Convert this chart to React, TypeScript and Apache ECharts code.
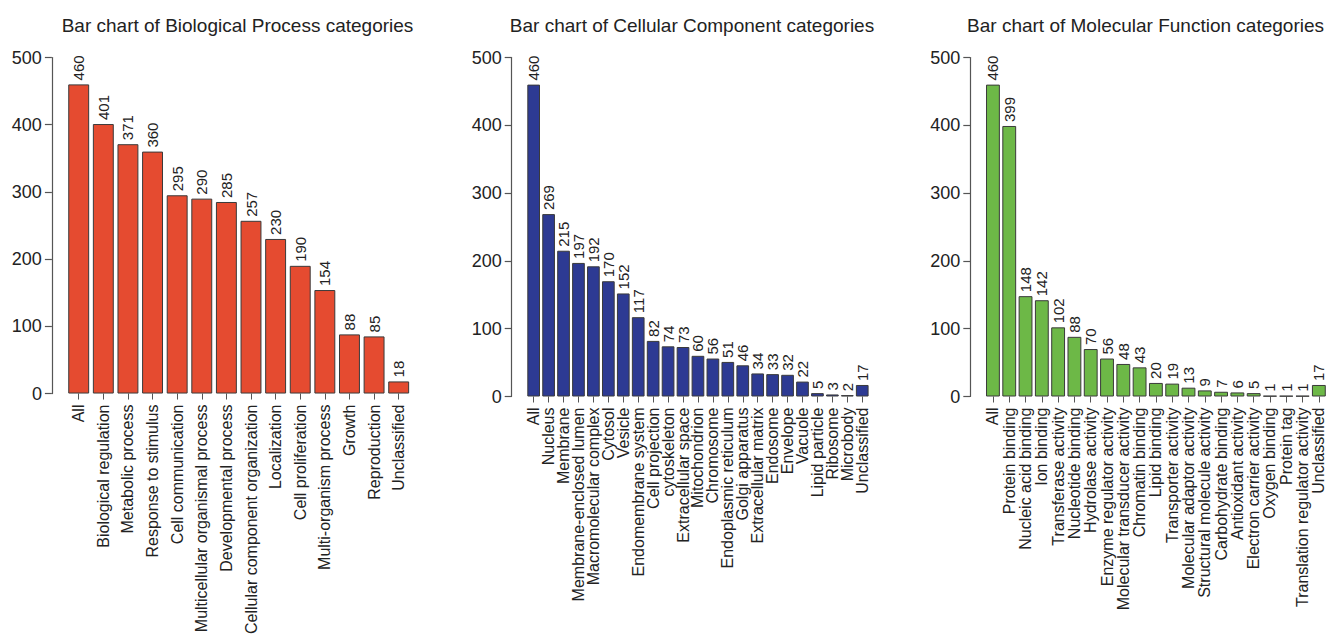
import React, { useEffect, useRef } from "react";
import * as echarts from "echarts";

const bpCategories = [
  "All", "Biological regulation", "Metabolic process", "Response to stimulus",
  "Cell communication", "Multicellular organismal process", "Developmental process",
  "Cellular component organization", "Localization", "Cell proliferation",
  "Multi-organism process", "Growth", "Reproduction", "Unclassified",
];
const bpValues = [460, 401, 371, 360, 295, 290, 285, 257, 230, 190, 154, 88, 85, 18];

const ccCategories = [
  "All", "Nucleus", "Membrane", "Membrane-enclosed lumen", "Macromolecular complex",
  "Cytosol", "Vesicle", "Endomembrane system", "Cell projection", "cytoskeleton",
  "Extracellular space", "Mitochondrion", "Chromosome", "Endoplasmic reticulum",
  "Golgi apparatus", "Extracellular matrix", "Endosome", "Envelope", "Vacuole",
  "Lipid particle", "Ribosome", "Microbody", "Unclassified",
];
const ccValues = [460, 269, 215, 197, 192, 170, 152, 117, 82, 74, 73, 60, 56, 51, 46, 34, 33, 32, 22, 5, 3, 2, 17];

const mfCategories = [
  "All", "Protein binding", "Nucleic acid binding", "Ion binding", "Transferase activity",
  "Nucleotide binding", "Hydrolase activity", "Enzyme regulator activity",
  "Molecular transducer activity", "Chromatin binding", "Lipid binding",
  "Transporter activity", "Molecular adaptor activity", "Structural molecule activity",
  "Carbohydrate binding", "Antioxidant activity", "Electron carrier activity",
  "Oxygen binding", "Protein tag", "Translation regulator activity", "Unclassified",
];
const mfValues = [460, 399, 148, 142, 102, 88, 70, 56, 48, 43, 20, 19, 13, 9, 7, 6, 5, 1, 1, 1, 17];

const titles = [
  "Bar chart of Biological Process categories",
  "Bar chart of Cellular Component categories",
  "Bar chart of Molecular Function categories",
];
const yTicks = { min: 0, max: 500, interval: 100 };

const panels = [
  { cats: bpCategories, vals: bpValues, color: "#E54B30", left: 66.4, width: 344.6, titlePos: { left: 237.5, textAlign: "center" } },
  { cats: ccCategories, vals: ccValues, color: "#2D3A93", left: 526.2, width: 343.5, titlePos: { left: 692, textAlign: "center" } },
  { cats: mfCategories, vals: mfValues, color: "#6DB847", left: 984.8, width: 343.4, titlePos: { right: 3 } },
];

const FONT = "'Liberation Sans', Arial, Helvetica, sans-serif";
const TEXT = "#222";
const AXIS = "#555";

export default function App() {
  const ref = useRef<HTMLDivElement>(null);
  useEffect(() => {
    document.body.style.margin = "0";
    if (!ref.current) return;
    const chart = echarts.init(ref.current, undefined, { renderer: "svg" });
    const option: any = {
      animation: false,
      backgroundColor: "#ffffff",
      title: panels.map((p, i) => ({
        text: titles[i],
        ...p.titlePos,
        top: 16,
        padding: 0,
        textStyle: { fontFamily: FONT, fontSize: 19, fontWeight: "normal", color: TEXT },
      })),
      grid: panels.map((p) => ({ left: p.left, width: p.width, top: 57.5, height: 339 })),
      xAxis: panels.map((p, i) => ({
        type: "category",
        gridIndex: i,
        data: p.cats,
        axisLine: { show: false },
        axisTick: { show: true, alignWithLabel: true, length: 6, lineStyle: { color: AXIS } },
        axisLabel: {
          interval: 0,
          rotate: 90,
          margin: 11,
          fontFamily: FONT,
          fontSize: 16,
          color: TEXT,
        },
      })),
      yAxis: panels.map((p, i) => ({
        type: "value",
        gridIndex: i,
        min: yTicks.min,
        max: yTicks.max,
        interval: yTicks.interval,
        offset: 14.5,
        axisLine: { show: true, lineStyle: { color: AXIS, width: 1.2 } },
        axisTick: { show: true, length: 7, lineStyle: { color: AXIS, width: 1.2 } },
        splitLine: { show: false },
        axisLabel: { margin: 10, fontFamily: FONT, fontSize: 18, color: TEXT },
      })),
      series: panels.map((p, i) => ({
        type: "bar",
        xAxisIndex: i,
        yAxisIndex: i,
        data: p.vals,
        barCategoryGap: "15%",
        itemStyle: { color: p.color, borderColor: "#3a3a3a", borderWidth: 1 },
        label: {
          show: true,
          position: "top",
          rotate: 90,
          align: "left",
          verticalAlign: "middle",
          distance: 4,
          fontFamily: FONT,
          fontSize: 15,
          color: TEXT,
        },
      })),
    };
    chart.setOption(option);
    return () => chart.dispose();
  }, []);
  return <div ref={ref} style={{ width: 1327, height: 637 }} />;
}
